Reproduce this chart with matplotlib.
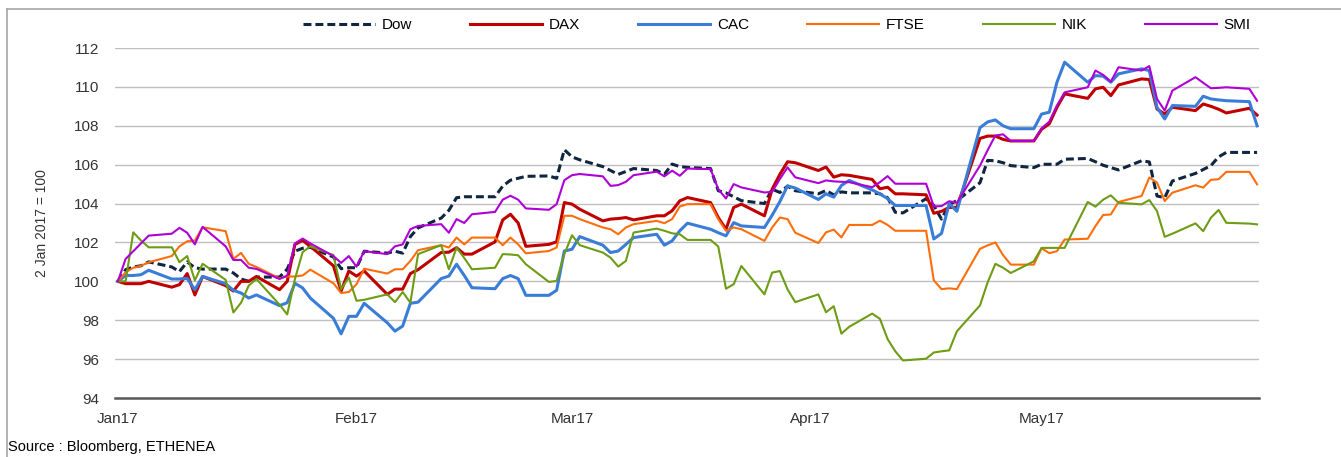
import pandas as pd
import matplotlib.pyplot as plt
import matplotlib.dates as mdates
from matplotlib.lines import Line2D

plt.rcParams['font.family'] = ['Liberation Sans', 'DejaVu Sans']

# trading days, 2 Jan 2017 - 30 May 2017
dates = pd.bdate_range('2017-01-02', '2017-05-30')

# index levels, 2 Jan 2017 = 100 (one row per month)
dow = [100.0, 100.6, 100.74, 100.8, 101.0, 100.74, 100.5, 101.0, 100.7, 100.63, 100.63, 100.43, 100.12, 100.0, 100.22, 100.22, 100.63, 101.55, 101.7, 101.75, 101.25, 100.65,
       100.7, 100.7, 101.55, 101.45, 101.55, 101.45, 102.3, 102.75, 103.25, 103.65, 104.3, 104.35, 104.35, 104.35, 104.9, 105.2, 105.3, 105.4, 105.42, 105.3,
       106.77, 106.4, 106.25, 105.9, 105.7, 105.5, 105.65, 105.8, 105.7, 105.5, 106.03, 105.9, 105.86, 105.8, 104.66, 104.55, 104.35, 104.15, 104.0, 104.74, 104.57, 104.9, 104.66,
       104.5, 104.67, 104.45, 104.6, 104.55, 104.55, 104.5, 104.3, 103.55, 103.52, 104.25, 103.9, 103.2, 103.95, 104.15, 105.07, 106.22, 106.2, 106.1, 105.95,
       105.85, 106.02, 106.02, 106.02, 106.28, 106.32, 106.15, 105.97, 105.85, 105.73, 106.2, 106.14, 104.39, 104.3, 105.16, 105.55, 105.75, 105.95, 106.4, 106.63, 106.63, 106.63]

dax = [100.0, 99.88, 99.88, 99.88, 100.0, 99.7, 99.83, 100.4, 99.3, 100.25, 99.78, 99.5, 100.0, 100.0, 100.25, 99.57, 100.0, 101.9, 102.1, 101.8, 100.8, 99.5,
       100.53, 100.27, 100.53, 99.33, 99.6, 99.6, 100.4, 100.6, 101.48, 101.5, 101.73, 101.4, 101.4, 102.03, 103.16, 103.45, 103.0, 101.8, 101.9, 102.03,
       104.05, 103.97, 103.71, 103.11, 103.2, 103.23, 103.28, 103.16, 103.37, 103.37, 103.63, 104.14, 104.31, 104.05, 103.28, 102.68, 103.8, 103.97, 103.37, 104.74, 105.5, 106.15, 106.1,
       105.7, 105.88, 105.36, 105.48, 105.45, 105.24, 104.76, 104.84, 104.5, 104.5, 104.45, 103.5, 103.6, 103.8, 103.8, 107.35, 107.47, 107.47, 107.3, 107.22,
       107.22, 107.82, 108.1, 108.95, 109.64, 109.41, 109.9, 109.98, 109.55, 110.1, 110.41, 110.38, 108.86, 108.6, 108.95, 108.78, 109.12, 109.0, 108.85, 108.66, 108.9, 108.55]

cac = [100.0, 100.3, 100.3, 100.34, 100.57, 100.12, 100.12, 100.15, 99.57, 100.25, 99.88, 99.54, 99.4, 99.14, 99.3, 98.75, 98.9, 99.9, 99.66, 99.14, 98.1, 97.3,
       98.2, 98.2, 98.87, 97.87, 97.44, 97.7, 98.87, 98.93, 100.14, 100.27, 100.88, 100.3, 99.67, 99.62, 100.14, 100.3, 100.14, 99.28, 99.28, 99.54,
       101.56, 101.65, 102.3, 101.86, 101.48, 101.56, 101.9, 102.25, 102.42, 101.86, 102.08, 102.6, 102.99, 102.68, 102.5, 102.34, 103.02, 102.85, 102.77, 103.4, 104.1, 104.91, 104.8,
       104.21, 104.5, 104.33, 104.93, 105.19, 104.7, 104.5, 104.25, 103.9, 103.9, 103.9, 102.18, 102.46, 104.0, 103.6, 107.9, 108.2, 108.3, 108.0, 107.85,
       107.85, 108.6, 108.7, 110.24, 111.27, 110.24, 110.58, 110.55, 110.24, 110.67, 110.93, 110.84, 108.95, 108.35, 109.04, 109.0, 109.52, 109.38, 109.33, 109.29, 109.24, 108.0]

ftse = [100.0, 100.46, 100.7, 100.8, 100.98, 101.3, 101.8, 102.06, 102.1, 102.78, 102.58, 101.15, 101.46, 100.9, 100.74, 100.15, 100.25, 100.25, 100.3, 100.6, 99.9, 99.4,
        99.45, 99.85, 100.65, 100.4, 100.62, 100.62, 101.05, 101.6, 101.86, 101.74, 102.25, 101.9, 102.25, 102.25, 101.86, 102.25, 101.9, 101.44, 101.56, 101.74,
        103.37, 103.37, 103.2, 102.77, 102.68, 102.42, 102.77, 102.94, 103.11, 102.99, 103.2, 103.85, 103.97, 103.97, 103.2, 102.6, 102.77, 102.68, 102.08, 102.77, 103.28, 103.2, 102.5,
        101.97, 102.52, 102.66, 102.26, 102.9, 102.9, 103.12, 102.9, 102.6, 102.6, 102.6, 100.05, 99.6, 99.64, 99.6, 101.67, 101.85, 102.0, 101.35, 100.86,
        100.86, 101.7, 101.45, 101.55, 102.15, 102.19, 102.84, 103.41, 103.44, 104.08, 104.39, 105.34, 105.08, 104.13, 104.56, 104.94, 104.82, 105.22, 105.25, 105.63, 105.63, 104.99]

nik = [100.0, 100.0, 102.52, 102.1, 101.75, 101.75, 100.98, 101.3, 100.05, 100.9, 100.08, 98.4, 98.9, 99.78, 100.12, 98.8, 98.3, 100.12, 101.5, 101.8, 101.35, 99.6,
       100.2, 99.0, 99.05, 99.33, 98.93, 99.45, 98.9, 101.4, 101.86, 100.62, 101.73, 101.2, 100.62, 100.7, 101.4, 101.38, 101.34, 100.88, 99.97, 100.02,
       101.4, 102.37, 101.86, 101.48, 101.22, 100.76, 101.05, 102.51, 102.71, 102.6, 102.47, 102.42, 102.13, 102.13, 101.79, 99.62, 99.85, 100.79, 99.33, 100.45, 100.53, 99.59, 98.93,
       99.33, 98.41, 98.72, 97.31, 97.66, 98.34, 98.07, 97.03, 96.4, 95.93, 96.02, 96.34, 96.4, 96.45, 97.43, 98.76, 99.95, 100.9, 100.7, 100.43,
       101.03, 101.72, 101.72, 101.72, 101.72, 104.08, 103.84, 104.2, 104.42, 104.04, 103.96, 104.18, 103.61, 102.29, 102.45, 102.98, 102.58, 103.27, 103.67, 103.01, 102.97, 102.93]

smi = [100.0, 101.15, 101.55, 101.95, 102.35, 102.45, 102.75, 102.5, 101.9, 102.8, 101.8, 101.1, 101.1, 100.7, 100.64, 100.12, 100.3, 101.95, 102.2, 101.95, 101.3, 100.95,
       101.3, 100.75, 101.55, 101.4, 101.8, 101.9, 102.68, 102.85, 102.94, 102.5, 103.2, 103.0, 103.45, 103.57, 104.2, 104.4, 104.2, 103.75, 103.68, 103.97,
       105.2, 105.46, 105.52, 105.4, 104.91, 104.95, 105.12, 105.46, 105.64, 105.4, 105.69, 105.43, 105.8, 105.77, 104.74, 104.26, 105.0, 104.83, 104.57, 104.6, 105.26, 105.86, 105.35,
       105.05, 105.19, 105.14, 105.12, 105.1, 104.84, 105.1, 105.41, 105.02, 105.02, 105.02, 103.85, 103.87, 104.12, 104.04, 105.95, 106.75, 107.5, 107.56, 107.22,
       107.22, 107.87, 108.21, 109.04, 109.72, 109.98, 110.84, 110.62, 110.27, 111.01, 110.84, 111.07, 109.38, 108.78, 109.81, 110.5, 110.21, 109.93, 109.95, 109.98, 109.9, 109.29]

names = ['Dow', 'DAX', 'CAC', 'FTSE', 'NIK', 'SMI']
month_ticks = pd.to_datetime(['2017-01-02', '2017-02-02', '2017-03-02', '2017-04-02', '2017-05-02'])

colors = ['#10253F', '#C00000', '#3A7DD8', '#FF6D0A', '#6E9C14', '#AE00D6']
widths = [2.2, 2.2, 2.2, 1.5, 1.5, 1.5]

fig = plt.figure(figsize=(13.41, 4.57), dpi=100)
ax = fig.add_axes([115 / 1341, 59 / 457, 1144 / 1341, 350 / 457])

for name, vals, c, lw in zip(names, [dow, dax, cac, ftse, nik, smi], colors, widths):
    if name == 'Dow':
        ax.plot(dates, vals, color=c, lw=lw, linestyle=(0, (2.6, 1.3)), label=name)
    else:
        ax.plot(dates, vals, color=c, lw=lw, label=name)

ax.set_xlim(pd.Timestamp('2017-01-02') - pd.Timedelta(hours=9),
            pd.Timestamp('2017-05-30') + pd.Timedelta(hours=6))
ax.set_ylim(94, 112)
ax.set_yticks(range(94, 113, 2))
ax.set_xticks(month_ticks)
ax.xaxis.set_major_formatter(mdates.DateFormatter('%b%y'))

ax.yaxis.grid(True, color='#BFBFBF', lw=1.0)
ax.set_axisbelow(True)
for s in ['top', 'right', 'left']:
    ax.spines[s].set_visible(False)
ax.spines['bottom'].set_color('#595959')
ax.spines['bottom'].set_linewidth(1.8)

ax.tick_params(axis='both', length=0, labelsize=11, colors='#333333')
ax.tick_params(axis='x', pad=10)
ax.tick_params(axis='y', pad=11)

ax.set_ylabel('2 Jan 2017 = 100', fontsize=10, color='#333333')
ax.yaxis.set_label_coords(-0.0577, 0.5)

fig.legend(loc='center', bbox_to_anchor=(777 / 1341, 1 - 25 / 457), ncol=6, frameon=False,
           fontsize=11, handlelength=4.7, handletextpad=0.45, columnspacing=3.8)

# frame round the chart (only top and left edges visible)
fig.add_artist(Line2D([7 / 1341, 1], [1 - 9 / 457, 1 - 9 / 457], color='#A6A6A6', lw=1.2))
fig.add_artist(Line2D([7 / 1341, 7 / 1341], [0, 1 - 9 / 457], color='#A6A6A6', lw=1.2))

fig.text(8 / 1341, 1 - 447 / 457, 'Source : Bloomberg, ETHENEA', fontsize=10.5, va='center', ha='left')

fig.savefig('out.png', dpi=100)
